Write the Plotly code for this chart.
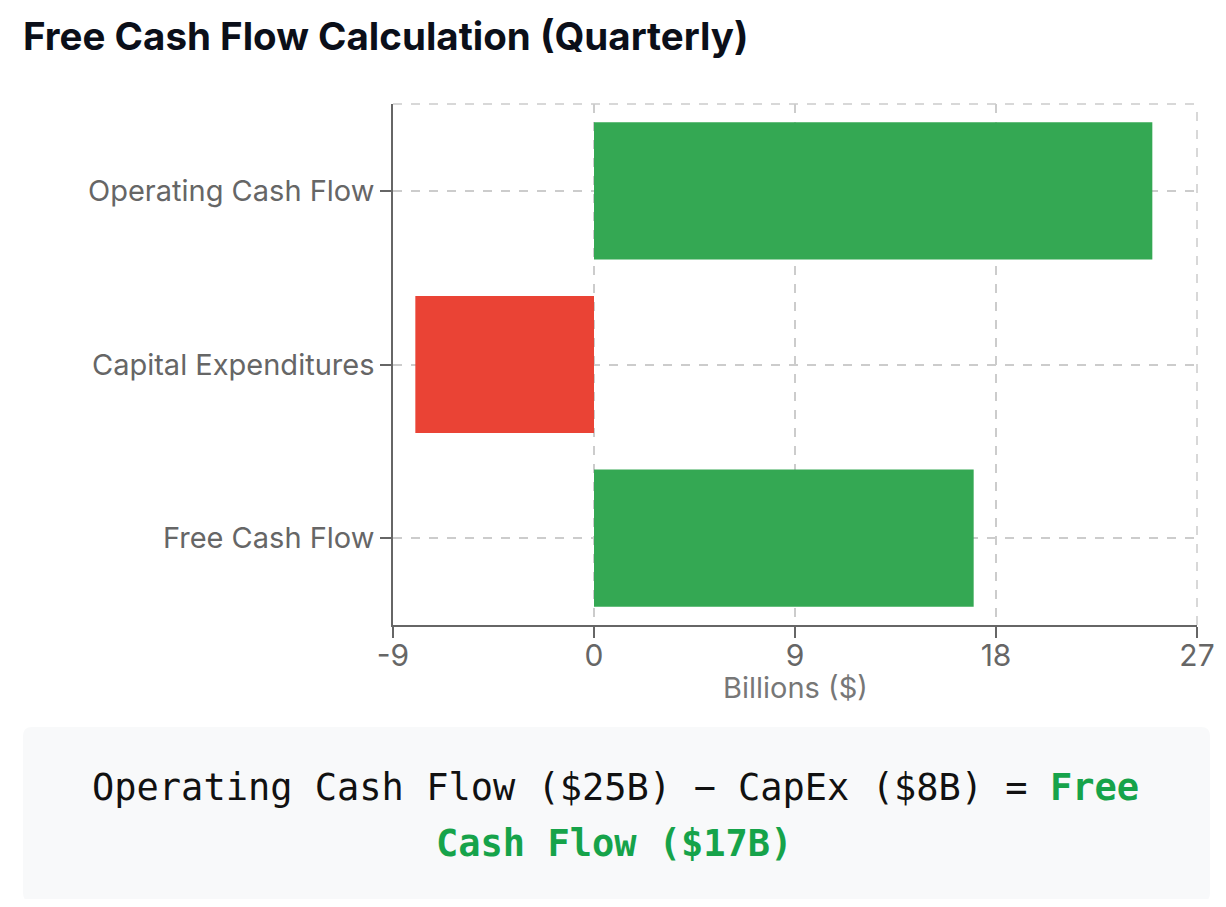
import plotly.graph_objects as go

# Data (billions of dollars, quarterly)
categories = ["Operating Cash Flow", "Capital Expenditures", "Free Cash Flow"]
values = [25, -8, 17]
x_ticks = [-9, 0, 9, 18, 27]
x_tick_labels = ["-9", "0", "9", "18", "27"]

GREEN = "#34a853"
RED = "#ea4335"
colors = [GREEN if v >= 0 else RED for v in values]

# the page has an 8px body margin, so work in page pixels and shift
OFF = 8
W, H = 1226 - 2 * OFF, 907 - 2 * OFF
L, R, T, B = 393 - OFF, 1197 - OFF, 104 - OFF, 625 - OFF  # plot area


def px_x(p):
    return (p - OFF - L) / (R - L)


def px_y(p):
    return (B - (p - OFF)) / (B - T)


fig = go.Figure(
    go.Bar(
        x=values,
        y=categories,
        orientation="h",
        marker=dict(color=colors, line=dict(width=0)),
        hoverinfo="x+y",
    )
)

fig.update_layout(
    width=W,
    height=H,
    margin=dict(l=L, r=W - R, t=T, b=H - B, autoexpand=False),
    paper_bgcolor="white",
    plot_bgcolor="white",
    bargap=0.21,
    showlegend=False,
    font=dict(family="Inter, Liberation Sans, sans-serif", color="#666666"),
    title=dict(
        text="<b>Free Cash Flow Calculation (Quarterly)</b>",
        xref="container",
        yref="container",
        x=(23 - OFF) / W,
        xanchor="left",
        y=1 - (37 - OFF) / H,
        yanchor="middle",
        font=dict(size=38.5, color="#0b0f19", family="Inter, Liberation Sans, sans-serif"),
    ),
)

fig.update_xaxes(
    range=[-9, 27],
    tickvals=x_ticks,
    ticktext=x_tick_labels,
    tickfont=dict(size=30, color="#666666"),
    ticklabeloverflow="allow",
    ticklabelstandoff=-8,
    showgrid=True,
    gridcolor="#cccccc",
    griddash="dash",
    gridwidth=1.5,
    zeroline=False,
    showline=True,
    linecolor="#666666",
    linewidth=1.5,
    ticks="outside",
    ticklen=11,
    tickwidth=1.5,
    tickcolor="#666666",
    automargin=False,
)

fig.update_yaxes(
    autorange="reversed",
    tickfont=dict(size=29, color="#666666"),
    showgrid=True,
    gridcolor="#cccccc",
    griddash="dash",
    gridwidth=1.5,
    showline=True,
    linecolor="#666666",
    linewidth=1.5,
    ticks="outside",
    ticklen=11,
    tickwidth=1.5,
    tickcolor="#666666",
    automargin=False,
)

# x axis title sits close under the tick labels
fig.add_annotation(
    text="Billions ($)", xref="paper", yref="paper", x=0.5, y=px_y(687),
    xanchor="center", yanchor="middle", showarrow=False,
    font=dict(size=29, color="#777777"),
)

# dashed frame on top and right
dash_line = dict(color="#cccccc", width=1.5, dash="dash")
fig.add_shape(type="line", xref="paper", yref="paper", x0=0, x1=1, y0=1, y1=1, line=dash_line)
fig.add_shape(type="line", xref="paper", yref="paper", x0=1, x1=1, y0=0, y1=1, line=dash_line)

# formula box below the chart (rounded corners)
bx0, bx1, by0, by1, rad = 23, 1210, 727, 902, 9
rx = rad / (R - L)
ry = rad / (B - T)
x0, x1 = px_x(bx0), px_x(bx1)
yt, yb = px_y(by0), px_y(by1)
box_path = (
    f"M {x0 + rx},{yt} L {x1 - rx},{yt} Q {x1},{yt} {x1},{yt - ry} "
    f"L {x1},{yb + ry} Q {x1},{yb} {x1 - rx},{yb} "
    f"L {x0 + rx},{yb} Q {x0},{yb} {x0},{yb + ry} "
    f"L {x0},{yt - ry} Q {x0},{yt} {x0 + rx},{yt} Z"
)
fig.add_shape(
    type="path",
    xref="paper",
    yref="paper",
    path=box_path,
    fillcolor="#f8f9fa",
    line=dict(width=0),
    layer="below",
)

mono = dict(family="DejaVu Sans Mono, monospace", size=37, color="#111111")
line1 = "Operating Cash Flow ($25B) − CapEx ($8B) = <span style='color:#16a34a'><b>Free</b></span>"
line2 = "<span style='color:#16a34a'><b>Cash Flow ($17B)</b></span>"
fig.add_annotation(
    text=line1, xref="paper", yref="paper", x=px_x(615), y=px_y(787),
    xanchor="center", yanchor="middle", showarrow=False, font=mono,
)
fig.add_annotation(
    text=line2, xref="paper", yref="paper", x=px_x(614), y=px_y(843),
    xanchor="center", yanchor="middle", showarrow=False, font=mono,
)

fig.write_html("out.html")
